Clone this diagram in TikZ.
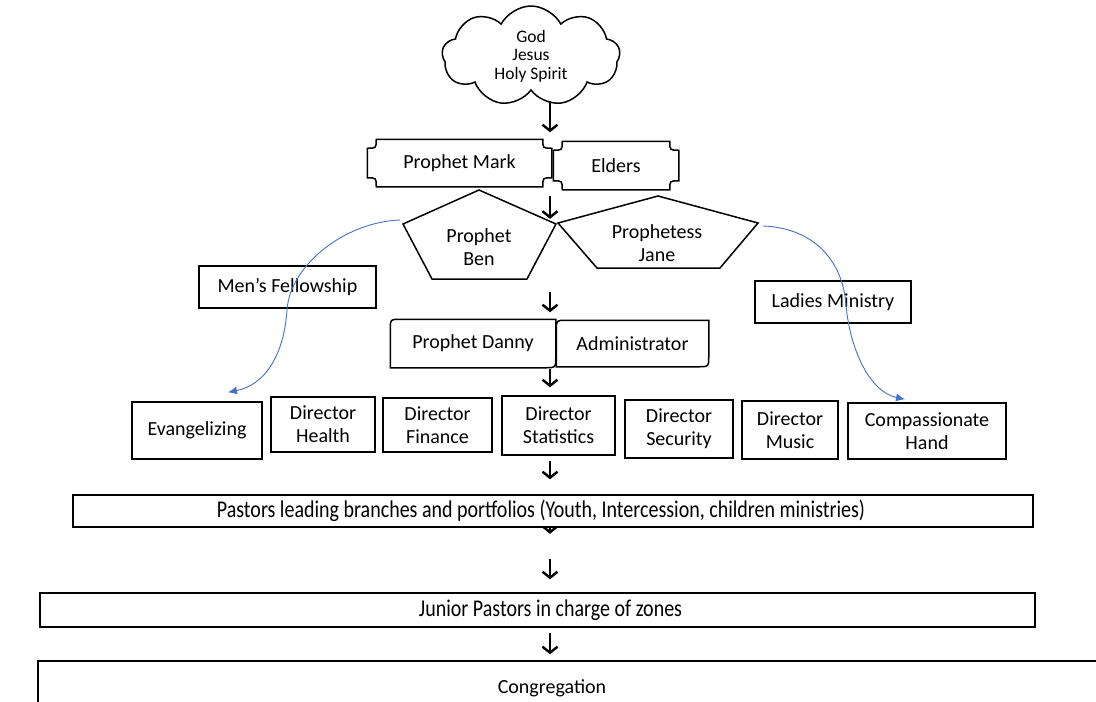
\documentclass[tikz,border=0pt]{standalone}
\usepackage{fontspec}
\setmainfont{Carlito}
\usetikzlibrary{shapes.symbols,arrows.meta,calc,backgrounds}
\definecolor{linkblue}{RGB}{68,114,196}
\newcommand{\tallfont}[1]{\scalebox{1}[1.2]{#1}}

\begin{document}
\begin{tikzpicture}[x=1pt, y=-1pt,
  box/.style={rectangle, draw, line width=1.5pt, fill=white, align=center, inner sep=1pt, font=\fontsize{20}{23}\selectfont},
  shaped/.style={box, draw=none, fill=none},
  cloudy/.style={cloud, cloud puffs=9, cloud puff arc=125, aspect=1.8, draw, line width=1.5pt, align=center, inner sep=0pt, minimum width=178, minimum height=100, font=\fontsize{17.5}{18.5}\selectfont},
  arrow/.style={-{Straight Barb[length=6pt,width=15pt]}, line width=2.4pt},
  link/.style={-{Latex[length=9pt,width=8pt]}, draw=linkblue, line width=0.9pt}
]
  \clip (0,0) rectangle (1096,702);
  \coordinate (spine) at (550,0);

  \node[cloudy] (cloud) at (531,56) {God\\Jesus\\Holy Spirit};

  % leaders
  \node[shaped, minimum width=183, minimum height=46] (mark) at (459.5,163) {Prophet Mark};
  \node[shaped, minimum width=124, minimum height=47] (elders) at (616,165.5) {Elders};
  \foreach \n in {mark,elders}
    \draw[line width=1.5pt] ([xshift=9pt]\n.north west) -- ([xshift=-9pt]\n.north east)
      .. controls ([xshift=-9pt,yshift=-9pt]\n.north east) .. ([yshift=-9pt]\n.north east)
      -- ([yshift=9pt]\n.south east)
      .. controls ([xshift=-9pt,yshift=9pt]\n.south east) .. ([xshift=-9pt]\n.south east)
      -- ([xshift=9pt]\n.south west)
      .. controls ([xshift=9pt,yshift=9pt]\n.south west) .. ([yshift=9pt]\n.south west)
      -- ([yshift=-9pt]\n.north west)
      .. controls ([xshift=9pt,yshift=-9pt]\n.north west) .. ([xshift=9pt]\n.north west) -- cycle;

  \coordinate (benT) at (479,190);
  \coordinate (benR) at (556,224);
  \coordinate (benBR) at (527,279);
  \coordinate (benBL) at (432,279);
  \coordinate (benL) at (403,224);
  \coordinate (janeT) at (658,196);
  \coordinate (janeR) at (758,223);
  \coordinate (janeBR) at (720,268);
  \coordinate (janeBL) at (597,268);
  \coordinate (janeL) at (558,223);
  \draw[line width=1.5pt] (benT) -- (benR) -- (benBR) -- (benBL) -- (benL) -- cycle;
  \draw[line width=1.5pt] (janeT) -- (janeR) -- (janeBR) -- (janeBL) -- (janeL) -- cycle;
  \node[shaped] (ben) at (479,247) {Prophet\\Ben};
  \node[shaped] (jane) at (657,243) {Prophetess\\Jane};

  \node[box, minimum width=177, minimum height=42] (mens) at (287.5,287) {Men’s Fellowship};
  \node[box, minimum width=156, minimum height=42] (ladies) at (833,302) {Ladies Ministry};

  \node[shaped, minimum width=164, minimum height=47] (danny) at (473,343.5) {Prophet Danny};
  \node[shaped, minimum width=151, minimum height=45] (admin) at (632.5,343.5) {Administrator};
  \foreach \n in {danny,admin}
    \draw[line width=1.5pt] (\n.north east) -- ([yshift=10pt]\n.south east)
      .. controls (\n.south east) .. ([xshift=-10pt]\n.south east)
      -- (\n.south west) -- ([yshift=-10pt]\n.north west)
      .. controls (\n.north west) .. ([xshift=10pt]\n.north west) -- cycle;

  % directors
  \node[box, minimum width=130, minimum height=57] (evang) at (197,430.5) {Evangelizing};
  \node[box, minimum width=104, minimum height=55] (health) at (323,424.5) {Director\\Health};
  \node[box, minimum width=109, minimum height=54] (finance) at (437.5,425) {Director\\Finance};
  \node[box, minimum width=113, minimum height=59] (stats) at (558.5,425.5) {Director\\Statistics};
  \node[box, minimum width=108, minimum height=58] (security) at (679,429) {Director\\Security};
  \node[box, minimum width=96, minimum height=58] (music) at (790,430) {Director\\Music};
  \node[box, minimum width=158, minimum height=56] (compass) at (927,431) {Compassionate\\Hand};

  % pastors and congregation
  \node[box, minimum width=960, minimum height=32] (pastors) at (553,511) {\hspace*{-24pt}\tallfont{Pastors leading branches and portfolios (Youth, Intercession, children ministries)}};
  \node[box, minimum width=995, minimum height=34] (junior) at (537.5,610) {\hspace*{26pt}\tallfont{Junior Pastors in charge of zones}};
  \node[box, minimum width=1072, minimum height=54] (congr) at (574,688) {\hspace*{-44pt}Congregation};

  \draw[arrow] ($(spine |- cloud.south)+(0,10)$) -- ($(spine |- mark.north)+(0,-7)$);
  \draw[arrow] ($(spine |- mark.south)+(0,9)$) -- ($(spine |- mark.south)+(0,32)$);
  \draw[arrow] ($(spine |- danny.north)+(0,-27)$) -- ($(spine |- danny.north)+(0,-7)$);
  \draw[arrow] ($(spine |- danny.south)+(0,1)$) -- ($(spine |- stats.north)+(0,-8)$);
  \draw[arrow] ($(spine |- stats.south)+(0,5)$) -- ($(spine |- pastors.north)+(0,-15)$);
  \begin{scope}[on background layer]
    \draw[arrow] (spine |- pastors.center) -- ($(spine |- pastors.south)+(0,6)$);
  \end{scope}
  \draw[arrow] ($(spine |- pastors.south)+(0,31)$) -- ($(spine |- junior.north)+(0,-13)$);
  \draw[arrow] ($(spine |- junior.south)+(0,5)$) -- ($(spine |- congr.north)+(0,-6)$);

  \draw[link] ($(benL)+(-3,-4)$) .. controls (345,222) and (290,265) .. (287,310)
    .. controls (284,355) and (265,385) .. ($(evang.north)+(31,-9)$);
  \draw[link] ($(janeR)+(5,3)$) .. controls (815,228) and (843,262) .. (846,305)
    .. controls (850,350) and (870,392) .. ($(compass.north)+(-22,-3)$);
\end{tikzpicture}
\end{document}
